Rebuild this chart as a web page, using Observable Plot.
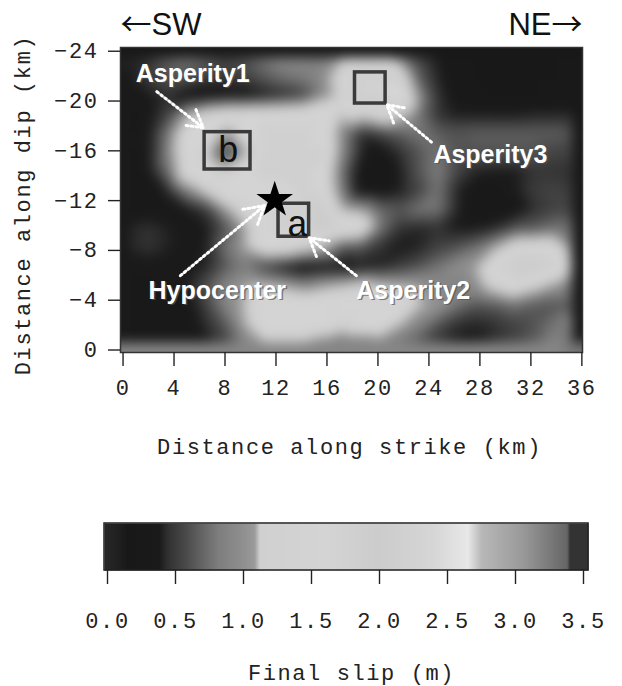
<!DOCTYPE html>
<html><head><meta charset="utf-8">
<script src="https://cdn.jsdelivr.net/npm/d3@7"></script>
<script src="https://cdn.jsdelivr.net/npm/@observablehq/plot@0.6"></script>
<style>
body{margin:0;background:#fff;}
#wrap{position:relative;width:622px;height:686px;overflow:hidden;background:#fff;}
#main{position:absolute;left:0;top:0;}
#bar{position:absolute;left:0;top:510px;}
g[aria-label="x-axis tick label"] text, g[aria-label="y-axis tick label"] text{letter-spacing:1.6px;}
</style></head><body>
<div id="wrap"><div id="main"></div><div id="bar"></div></div>
<script>
// ---- tick labels ----
const strikeTicks = [0, 4, 8, 12, 16, 20, 24, 28, 32, 36];
const dipTicks = [-24, -20, -16, -12, -8, -4, 0];
const slipTicks = [0, 0.5, 1, 1.5, 2, 2.5, 3, 3.5];

// ---- colour map ----
const slipStops = [0, 0.1, 0.15, 0.38, 0.45, 0.56, 0.7, 0.81, 1.0, 1.08, 1.12, 1.6, 2.0, 2.4, 2.65, 2.75, 3.05, 3.38, 3.4, 3.5];
const slipGrays = ["#262626", "#1e1e1e", "#181818", "#1a1a1a", "#333333", "#474747", "#666666", "#7d7d7d", "#909090", "#9a9a9a", "#d0d0d0", "#d4d4d4", "#cccccc", "#d6d6d6", "#e8e8e8", "#b8b8b8", "#9a9a9a", "#666666", "#333333", "#333333"];

// ---- fault grid (strike -0.2..36.05 km, dip -24.3..0.2 km), rows from top (deep) to bottom ----
const gridCols = 24, gridRows = 16;
const strikeExtent = [-0.2, 36.05];
const dipExtent = [-24.3, 0.2];
const slipRows = [
  [0.41,0.45,0.66,0.77,0.66,0.54,0.62,0.77,0.9,0.9,0.83,1.08,1.45,1.3,0.9,0.54,0.38,0.25,0.2,0.2,0.2,0.2,0.2,0.25],
  [0.38,0.5,0.62,0.62,0.54,0.5,0.54,0.66,0.77,0.83,0.97,1.3,2.2,2.2,1.6,0.66,0.41,0.25,0.2,0.2,0.2,0.2,0.2,0.25],
  [0.3,0.38,0.45,0.3,0.25,0.3,0.3,0.38,0.45,0.56,0.95,1.2,2.2,2.2,2.62,0.9,0.45,0.3,0.25,0.2,0.2,0.2,0.25,0.25],
  [0.3,0.36,0.54,1.08,1.45,1.6,1.6,1.6,1.6,1.6,1.6,1.13,1.3,1.6,1.2,0.77,0.45,0.38,0.38,0.38,0.38,0.41,0.41,0.41],
  [0.3,0.38,0.83,1.6,1.6,0.95,1.6,1.8,1.8,1.8,1.6,0.9,0.45,0.54,0.66,0.77,0.66,0.62,0.66,0.66,0.66,0.66,0.66,0.62],
  [0.3,0.36,0.9,1.6,1.2,0.45,1.05,1.8,1.8,1.8,1.8,0.9,0.41,0.3,0.45,0.62,0.77,0.62,0.62,0.62,0.62,0.62,0.54,0.54],
  [0.3,0.36,0.77,1.6,1.6,1.3,1.6,1.8,1.8,1.8,1.6,0.77,0.25,0.25,0.38,0.62,0.83,0.54,0.41,0.38,0.38,0.45,0.45,0.45],
  [0.25,0.25,0.45,0.9,1.3,1.6,1.6,1.6,1.6,1.8,1.6,0.83,0.25,0.25,0.38,0.54,0.77,0.41,0.3,0.3,0.38,0.5,0.54,0.5],
  [0.3,0.32,0.32,0.38,0.5,1.04,1.3,1.6,1.8,1.8,2.0,1.13,1.04,0.7,0.62,0.77,0.77,0.41,0.28,0.25,0.3,0.45,0.54,0.54],
  [0.42,0.45,0.4,0.32,0.38,0.62,1.08,1.6,1.8,1.8,2.0,1.8,1.6,0.77,0.45,0.41,0.45,0.38,0.38,0.45,0.62,0.66,0.77,0.77],
  [0.42,0.45,0.4,0.35,0.4,0.77,1.1,1.6,1.6,1.3,1.1,0.62,0.62,0.45,0.38,0.41,0.54,0.62,0.77,1.1,1.6,1.6,1.6,0.9],
  [0.35,0.35,0.32,0.32,0.42,0.66,0.83,0.54,0.38,0.25,0.3,0.3,0.38,0.41,0.5,0.62,0.77,0.97,1.1,1.6,2.0,2.0,1.8,1.04],
  [0.25,0.3,0.32,0.38,0.6,0.9,1.08,1.1,1.04,0.9,1.04,1.13,1.3,1.13,1.08,1.04,0.9,0.83,0.97,1.3,1.6,1.3,1.04,0.7],
  [0.25,0.25,0.28,0.32,0.54,0.9,1.13,1.6,1.6,1.6,1.6,1.6,1.6,1.6,1.6,1.13,1.04,0.77,0.62,0.66,0.77,0.66,0.62,0.62],
  [0.25,0.25,0.25,0.3,0.45,0.66,1.1,1.6,1.6,1.6,1.6,1.3,1.6,1.6,1.13,0.9,0.62,0.45,0.41,0.45,0.54,0.62,0.77,0.9],
  [0.25,0.25,0.25,0.3,0.38,0.54,0.9,1.1,1.13,1.1,0.9,0.77,0.77,0.9,0.77,0.62,0.45,0.38,0.38,0.45,0.54,0.66,0.9,0.77]
];

// ---- annotations (km) ----
const asperityBoxes = [
  {name: "Asperity1", x1: 6.4, x2: 10.0, y1: -17.5, y2: -14.5},
  {name: "Asperity2", x1: 12.2, x2: 14.6, y1: -11.75, y2: -9.1},
  {name: "Asperity3", x1: 18.2, x2: 20.6, y1: -22.3, y2: -19.8}
];
const boxLetters = [
  {text: "b", x: 8.25, y: -16.0},
  {text: "a", x: 13.7, y: -10.05}
];
const hypocenter = [{x: 11.9, y: -12.05}];
const calloutLabels = [
  {text: "Asperity1", x: 1.0, y: -21.55},
  {text: "Asperity3", x: 24.35, y: -15.05},
  {text: "Hypocenter", x: 2.0, y: -4.12},
  {text: "Asperity2", x: 18.3, y: -4.12}
];
const calloutArrows = [
  {x1: 2.65, y1: -20.75, x2: 6.3, y2: -17.85},
  {x1: 24.2, y1: -16.7, x2: 20.7, y2: -19.7},
  {x1: 4.5, y1: -5.97, x2: 11.1, y2: -11.6},
  {x1: 18.3, y1: -5.97, x2: 14.6, y2: -9.02}
];
const leftDirection = ["\u2190SW"];
const rightDirection = ["NE\u2192"];

const mono = "'Liberation Mono', 'DejaVu Sans Mono', monospace";
const sans = "'Liberation Sans', Arial, 'DejaVu Sans', sans-serif";
const colorOpts = {type: "linear", domain: slipStops, range: slipGrays, clamp: true};

// grid samples placed at cell centres of the fault grid
const cellW = (strikeExtent[1] - strikeExtent[0]) / gridCols;
const cellH = (dipExtent[1] - dipExtent[0]) / gridRows;
const samples = slipRows.flatMap((row, r) => row.map((v, c) => ({
  x: strikeExtent[0] + (c + 0.5) * cellW,
  y: dipExtent[0] + (r + 0.5) * cellH,
  slip: v
})));

const main = Plot.plot({
  width: 622, height: 470,
  marginLeft: 120, marginRight: 40, marginTop: 47, marginBottom: 118,
  style: {fontFamily: mono, fontSize: "22px", color: "#222", background: "transparent", overflow: "visible"},
  x: {domain: strikeExtent},
  y: {domain: dipExtent, reverse: true},
  color: colorOpts,
  marks: [
    Plot.raster(samples, {
      x: "x", y: "y", fill: "slip",
      x1: strikeExtent[0], x2: strikeExtent[1], y1: dipExtent[0], y2: dipExtent[1],
      interpolate: "barycentric", pixelSize: 1, blur: 5
    }),
    Plot.frame({stroke: "#333", strokeWidth: 1.5}),
    Plot.axisX(strikeTicks, {anchor: "bottom", tickSize: 14, tickPadding: 13, tickFormat: d => String(d), label: null, stroke: "#222", strokeWidth: 1.4, fill: "#222"}),
    Plot.axisY(dipTicks, {anchor: "left", tickSize: 12, tickPadding: 10, tickFormat: d => String(d).replace("-", "\u2212"), label: null, stroke: "#222", strokeWidth: 1.4, fill: "#222"}),
    Plot.rect(asperityBoxes, {x1: "x1", x2: "x2", y1: "y1", y2: "y2", fill: "none", stroke: "#3a3a3a", strokeWidth: 3.5}),
    Plot.text(boxLetters, {x: "x", y: "y", text: "text", fontFamily: mono, fontSize: 36, fill: "#111"}),
    Plot.dot(hypocenter, {x: "x", y: "y", symbol: "star", r: 11.5, fill: "#000", stroke: "none"}),
    Plot.arrow(calloutArrows, {x1: "x1", y1: "y1", x2: "x2", y2: "y2", stroke: "white", strokeWidth: 3, strokeDasharray: "2,3", headLength: 11, headAngle: 60}),
    Plot.text(calloutLabels, {x: "x", y: "y", text: "text", textAnchor: "start", lineAnchor: "bottom", fontFamily: sans, fontWeight: "bold", fontSize: 25, fill: "#555", fillOpacity: 0.7, dx: 1.5, dy: 1.5}),
    Plot.text(calloutLabels, {x: "x", y: "y", text: "text", textAnchor: "start", lineAnchor: "bottom", fontFamily: sans, fontWeight: "bold", fontSize: 25, fill: "white"}),
    Plot.text(leftDirection, {frameAnchor: "top-left", textAnchor: "start", lineAnchor: "bottom", dy: -13, fontFamily: sans, fontSize: 31, fill: "#111"}),
    Plot.text(rightDirection, {frameAnchor: "top-right", textAnchor: "end", lineAnchor: "bottom", dy: -13, fontFamily: sans, fontSize: 31, fill: "#111"}),
    Plot.text(["Distance along strike (km)"], {frameAnchor: "bottom", textAnchor: "middle", lineAnchor: "bottom", dy: 101, dx: -2, fontFamily: mono, fontSize: 22, fill: "#222"}),
    Plot.text(["Distance along dip (km)"], {frameAnchor: "left", textAnchor: "middle", rotate: -90, lineAnchor: "middle", dx: -98, dy: 5, fontFamily: mono, fontSize: 22, fill: "#222"})
  ]
});
main.querySelectorAll("text").forEach(t => {
  const s = t.textContent;
  if (s.startsWith("Distance")) t.style.letterSpacing = "1.6px";
  // wide thin arrows as in the reference
  if (s === leftDirection[0] || s === rightDirection[0]) {
    const parts = s === leftDirection[0] ? [["\u2190", true], ["SW", false]] : [["NE", false], ["\u2192", true]];
    t.textContent = "";
    for (const [txt, isArrow] of parts) {
      const ts = document.createElementNS("http://www.w3.org/2000/svg", "tspan");
      ts.textContent = txt;
      if (isArrow) ts.setAttribute("font-family", "'Noto Sans CJK JP', 'DejaVu Sans', sans-serif");
      t.appendChild(ts);
    }
  }
});
document.getElementById("main").appendChild(main);

const cbExtent = [-0.022, 3.537];
const bar = Plot.plot({
  width: 622, height: 130,
  marginLeft: 107, marginRight: 39, marginTop: 13, marginBottom: 70,
  style: {fontFamily: mono, fontSize: "22px", color: "#222", background: "transparent", overflow: "visible"},
  x: {domain: [0, 3.5]},
  y: {domain: [0, 1], axis: null},
  color: colorOpts,
  marks: [
    Plot.raster({x1: cbExtent[0], x2: cbExtent[1], y1: 0, y2: 1, fill: (x, y) => x, pixelSize: 1}),
    Plot.rect([cbExtent], {x1: d => d[0], x2: d => d[1], y1: 0, y2: 1, fill: "none", stroke: "#222", strokeWidth: 1.5}),
    Plot.axisX(slipTicks, {anchor: "bottom", tickSize: 14, tickPadding: 28, tickFormat: d => d.toFixed(1), label: null, stroke: "#222", strokeWidth: 1.4, fill: "#222"}),
    Plot.text(["Final slip (m)"], {frameAnchor: "bottom", textAnchor: "middle", lineAnchor: "bottom", dy: 109, dx: 6, fontFamily: mono, fontSize: 22, fill: "#222"})
  ]
});
bar.querySelectorAll("text").forEach(t => {
  if (t.textContent.startsWith("Final")) t.style.letterSpacing = "1.6px";
});
document.getElementById("bar").appendChild(bar);
</script>
</body></html>
